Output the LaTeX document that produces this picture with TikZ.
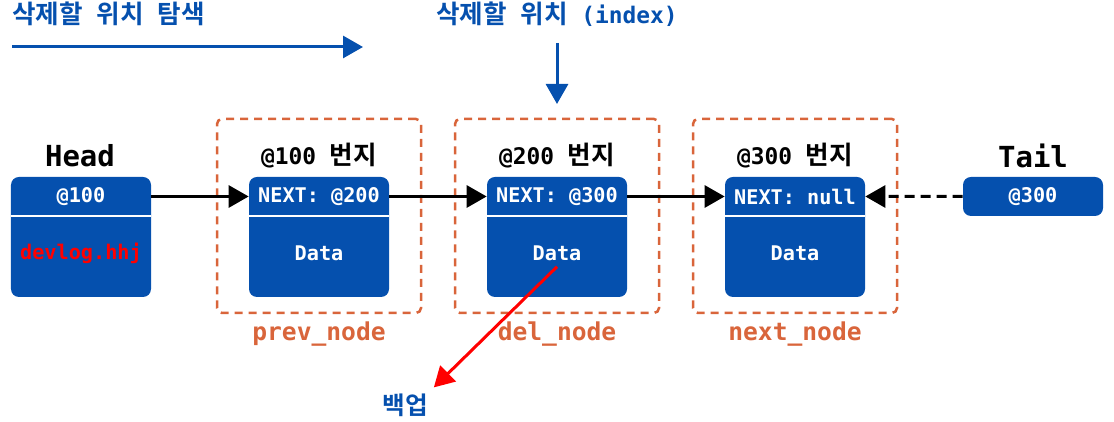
\documentclass[tikz,border=0pt]{standalone}
\usepackage{fontspec}
\setmonofont{DejaVu Sans Mono}
\newfontfamily\kr{Noto Sans CJK KR}[BoldFont={* Bold}, Scale=1.12]
\usepackage{tikz}
\usetikzlibrary{arrows.meta,positioning}
\definecolor{boxblue}{HTML}{0550AE}
\definecolor{dashorange}{HTML}{D9653B}
\newcommand{\fsz}[1]{\fontsize{#1}{#1}\selectfont}

\begin{document}
\begin{tikzpicture}[
  font=\ttfamily\bfseries,
  cell/.style={fill=boxblue, rounded corners=0.16cm, minimum width=2.8cm, minimum height=2.4cm, inner sep=0},
  ptr/.style={text=white, minimum width=2.8cm, minimum height=0.78cm, inner sep=0, font=\ttfamily\bfseries\fsz{11.5}},
  payload/.style={text=white, font=\ttfamily\bfseries\fsz{11.5}},
  divider/.style={white, line width=0.04cm},
  group/.style={draw=dashorange, dash pattern=on 0.16cm off 0.12cm, line width=0.05cm, rounded corners=0.1cm, minimum width=4.08cm, minimum height=3.88cm},
  title/.style={font=\ttfamily\bfseries\fsz{16.5}},
  addr/.style={font=\ttfamily\bfseries\fsz{13}},
  tag/.style={text=dashorange, font=\ttfamily\bfseries\fsz{14}},
  note/.style={text=boxblue, inner sep=0, font=\ttfamily\bfseries\fsz{13}},
  link/.style={line width=0.06cm, -{Triangle[length=0.4cm,width=0.44cm]}}
]
  \useasboundingbox (0,0) rectangle (22.28,8.44);

  %search direction
  \node[note, anchor=west] (srch) at (0.24,8.16) {{\kr 삭제할} {\kr 위치} {\kr 탐색}};
  \coordinate (s0) at (0.24,7.5);
  \coordinate (s1) at (7.26,7.5);
  \draw[link, boxblue] (s0) -- (s1);

  \node[note] (idx) at (11.14,8.16) {{\kr 삭제할} {\kr 위치} (index)};
  \coordinate (i0) at (11.14,7.58);
  \coordinate (i1) at (11.14,6.36);
  \draw[link, boxblue] (i0) -- (i1);

  %dashed groups
  \node[group] (gp) at (6.38,4.12) {};
  \node[group] (gd) at (11.14,4.12) {};
  \node[group] (gn) at (15.9,4.12) {};
  \node[tag] (lp) at (6.38,1.76) {prev\_node};
  \node[tag] (ld) at (11.14,1.76) {del\_node};
  \node[tag] (ln) at (15.9,1.76) {next\_node};

  %head
  \node[title] (ht) at (1.6,5.32) {Head};
  \node[cell] (h) at (1.62,3.70) {};
  \node[ptr, anchor=north] (hp) at (h.north) {@100};
  \node[payload, text=red] (hd) at (1.62,3.38) {devlog.hhj};
  \draw[divider] (hp.south west) -- (hp.south east);

  %nodes
  \node[addr] (a1) at (6.38,5.32) {@100 {\kr 번지}};
  \node[cell] (n1) at (6.38,3.70) {};
  \node[ptr, anchor=north] (p1) at (n1.north) {NEXT: @200};
  \node[payload] (d1) at (6.38,3.38) {Data};
  \draw[divider] (p1.south west) -- (p1.south east);

  \node[addr] (a2) at (11.14,5.32) {@200 {\kr 번지}};
  \node[cell] (n2) at (11.14,3.70) {};
  \node[ptr, anchor=north] (p2) at (n2.north) {NEXT: @300};
  \node[payload] (d2) at (11.14,3.38) {Data};
  \draw[divider] (p2.south west) -- (p2.south east);

  \node[addr] (a3) at (15.9,5.32) {@300 {\kr 번지}};
  \node[cell] (n3) at (15.9,3.70) {};
  \node[ptr, anchor=north] (p3) at (n3.north) {NEXT: null};
  \node[payload] (d3) at (15.9,3.38) {Data};
  \draw[divider] (p3.south west) -- (p3.south east);

  %tail
  \node[title] (tt) at (20.66,5.32) {Tail};
  \node[ptr, fill=boxblue, rounded corners=0.16cm] (tp) at (20.66,4.51) {@300};

  %links
  \draw[link] (hp.east) -- (p1.west);
  \draw[link] (p1.east) -- (p2.west);
  \draw[link] (p2.east) -- (p3.west);
  \draw[link, dash pattern=on 0.2cm off 0.12cm] (tp.west) -- (p3.east);

  %backup
  \node[text=boxblue, font=\kr\bfseries\fsz{12.5}] (bk) at (8.10,0.34) {백업};
  \draw[link, red] (d2.south) -- (bk.north east);
\end{tikzpicture}
\end{document}
